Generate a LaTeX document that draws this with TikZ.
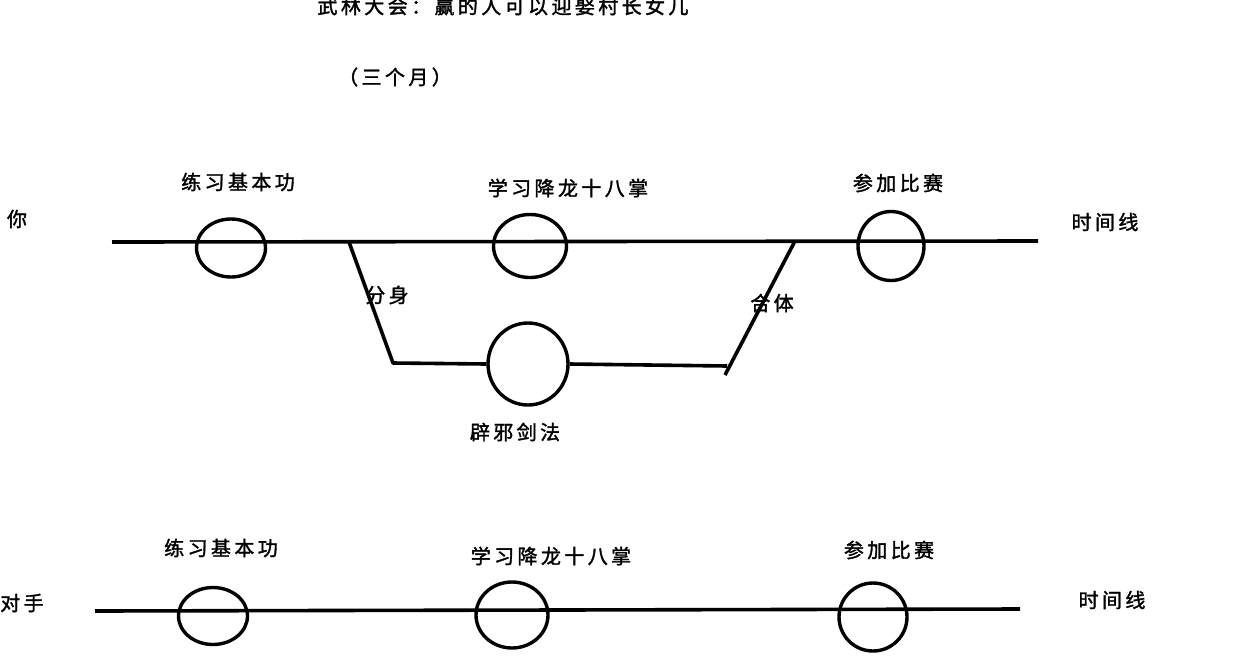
\documentclass[tikz,border=0pt]{standalone}
\usepackage{fontspec}
\newfontfamily\cjk{Noto Sans CJK SC}[LetterSpace=17,FakeBold=1.6]
\usetikzlibrary{shapes.geometric}
\begin{document}
\begin{tikzpicture}[x=1pt,y=-1pt,
  lbl/.style={font=\cjk\fontsize{20}{23}\selectfont, inner sep=0pt},
  tl/.style={line width=3.6pt},
  ring/.style={draw, ellipse, line width=3.4pt, inner sep=0pt, fill=none}]
\useasboundingbox[fill=white] (0,0) rectangle (1234,670);

% titles
\node[lbl] (title) at (503,6) {武林大会：赢的人可以迎娶村长女儿};
\node[lbl] (months) at (395,77) {（三个月）};

% ---------- top timeline (你)
\node[lbl] (you) at (17,219) {你};
\coordinate (ts) at (112,242);
\coordinate (te) at (1038,241);
\coordinate (split) at (349,242);
\coordinate (merge) at (795,241);
\coordinate (c1) at (393,363);
\coordinate (c2) at (727,366);
\coordinate (c3) at (725,375);
\draw[tl] (ts) -- (te);
\node[ring, minimum width=69pt, minimum height=58pt] (t1) at (231,248) {};
\node[ring, minimum width=73pt, minimum height=63pt] (t2) at (530,246) {};
\node[ring, minimum width=66pt, minimum height=69pt] (t3) at (891,246) {};
\node[ring, minimum width=80pt, minimum height=82pt] (t4) at (528,364) {};
\draw[tl, line join=round] (split) -- (c1) -- (t4.west);
\draw[tl] (t4.east) -- (c2);
\draw[tl] (c3) -- (merge);

\node[lbl] (l1) at (238,182) {练习基本功};
\node[lbl] (l2) at (568,188) {学习降龙十八掌};
\node[lbl] (l3) at (898,183) {参加比赛};
\node[lbl] (l4) at (1105,222) {时间线};
\node[lbl] (fen) at (387,295) {分身};
\node[lbl] (he) at (772,303) {合体};
\node[lbl] (bixie) at (515,432) {辟邪剑法};

% ---------- bottom timeline (对手)
\node[lbl] (opp) at (22,603) {对手};
\coordinate (bs) at (95,611);
\coordinate (be) at (1020,609);
\draw[tl] (bs) -- (be);
\node[ring, minimum width=69pt, minimum height=57pt] (b1) at (213,616) {};
\node[ring, minimum width=72pt, minimum height=66pt] (b2) at (512,615) {};
\node[ring, minimum width=68pt, minimum height=68pt] (b3) at (873,617) {};

\node[lbl] (m1) at (221,548) {练习基本功};
\node[lbl] (m2) at (551,556) {学习降龙十八掌};
\node[lbl] (m3) at (889,550) {参加比赛};
\node[lbl] (m4) at (1112,600) {时间线};
\end{tikzpicture}
\end{document}
